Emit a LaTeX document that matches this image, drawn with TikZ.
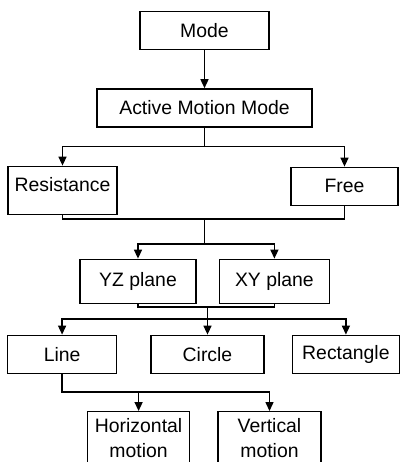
\documentclass[tikz,border=0pt]{standalone}
\usepackage{fontspec}
\setmainfont{Liberation Sans}
\usetikzlibrary{arrows,arrows.meta,positioning}
\begin{document}
\begin{tikzpicture}[auto,line width=1pt,line cap=rect,>={Triangle[width=5.7pt,length=6.4pt]}]

        \tikzstyle{box}=[shape=rectangle,draw,align=center,minimum height=0.95cm,inner sep=1pt,font=\fontsize{13.8}{18}\selectfont]

        \useasboundingbox (-5.1125,0.7625) rectangle (4.8625,-10.7875);

        \node[box,minimum width=3.225cm] (M) at (0,0) {Mode};
        \node[box,minimum width=5.375cm] (AM) [below=0.95cm of M] {Active Motion Mode};
        \node[box,minimum width=2.725cm,minimum height=1.2cm,text depth=0.275cm] (R) [below=0.95cm of AM,xshift=-3.55cm] {Resistance};
        \node[box,minimum width=2.675cm] (F) [below=0.975cm of AM,xshift=3.5cm] {Free};
        \node[box,minimum width=2.9cm,minimum height=1.1cm] (YZ) [below=3.275cm of AM,xshift=-1.6625cm] {YZ plane};
        \node[box,minimum width=2.75cm,minimum height=1.1cm] (XY) [right=0.55cm of YZ] {XY plane};
        \node[box,minimum width=2.825cm] (C) [below=5.175cm of AM,xshift=0.075cm] {Circle};
        \node[box,minimum width=2.725cm] (L) [left=0.825cm of C] {Line};
        \node[box,minimum width=2.675cm] (RE) [right=0.675cm of C] {Rectangle};
        \node[box,minimum width=2.55cm,minimum height=1.6cm,text depth=0.3cm] (H) [below=0.925cm of L,xshift=1.9125cm] {Horizontal\\motion};
        \node[box,minimum width=2.575cm,minimum height=1.6cm,text depth=0.3cm] (V) [right=0.675cm of H] {Vertical\\motion};

        \coordinate [below=0.475cm of AM] (A1);
        \coordinate [below=0.1cm of R] (R1);
        \coordinate (R2) at (AM |- R1);
        \coordinate [below=0.625cm of R2] (R3);
        \coordinate [below=0.075cm of YZ] (Y1);
        \coordinate (Y2) at (C |- Y1);
        \coordinate [below=0.3cm of Y2] (Y3);
        \coordinate [below=0.45cm of L] (L1);

        \path [->] (M) edge (AM);
        \path [-] (AM) edge (A1);
        \path [-] (R |- A1) edge (F |- A1);
        \path [->] (R |- A1) edge (R);
        \path [->] (F |- A1) edge (F);

        \path [-] (R) edge (R1);
        \path [-] (R1) edge (F |- R1);
        \path [-] (F) edge (F |- R1);
        \path [-] (R2) edge (R3);
        \path [-] (YZ |- R3) edge (XY |- R3);
        \path [->] (YZ |- R3) edge (YZ);
        \path [->] (XY |- R3) edge (XY);

        \path [-] (YZ) edge (Y1);
        \path [-] (Y1) edge (XY |- Y1);
        \path [-] (XY) edge (XY |- Y1);
        \path [-] (Y2) edge (Y3);
        \path [-] (L |- Y3) edge (RE |- Y3);
        \path [->] (L |- Y3) edge (L);
        \path [->] (Y3) edge (C);
        \path [->] (RE |- Y3) edge (RE);

        \path [-] (L) edge (L1);
        \path [-] (L1) edge (V |- L1);
        \path [->] (H |- L1) edge (H);
        \path [->] (V |- L1) edge (V);
      \end{tikzpicture}
\end{document}
